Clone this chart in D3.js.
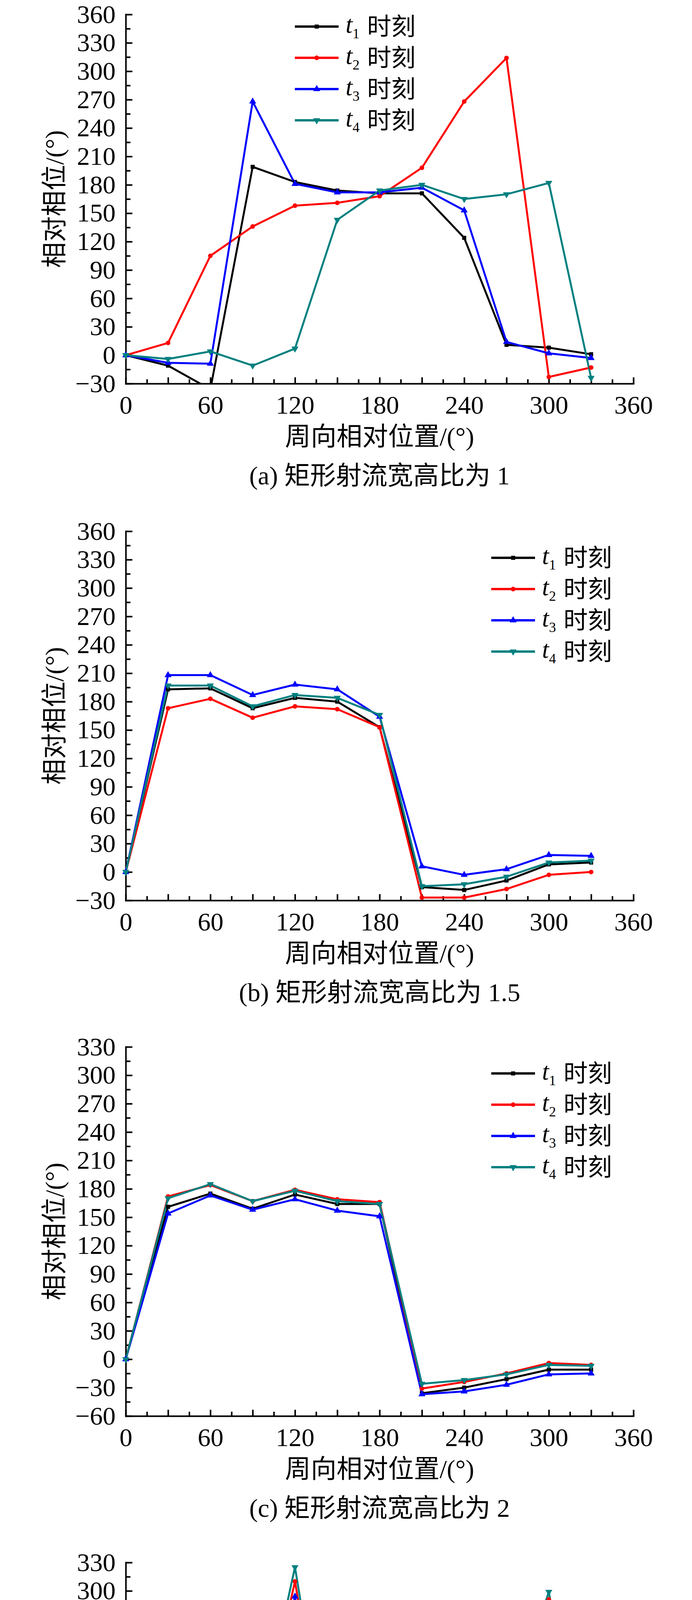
<!DOCTYPE html>
<html lang="zh">
<head>
<meta charset="UTF-8" />
<title>相对相位 - 周向相对位置</title>
<script src="https://d3js.org/d3.v7.min.js"></script>
<style>
  body { margin: 0; background: #fff; }
  svg { display: block; background: #fff; }
  text { font-family: "Liberation Serif", "Times New Roman", "Noto Sans CJK SC", serif; fill: #000; }
  .axis path, .axis line { stroke: #000; stroke-width: 4; }
  .axis path { stroke-linecap: square; }
  .axis text { font-size: 66px; font-family: "Liberation Serif", "Times New Roman", serif; }
  .serie { fill: none; stroke-width: 5; stroke-linejoin: round; }
</style>
</head>
<body>
<svg id="fig" width="1772" height="5222"></svg>
<script>
// 周向位置 (°)
const angles = [0, 30, 60, 90, 120, 150, 180, 210, 240, 270, 300, 330];

// (a) 宽高比 1
const aT1 = [0, -11, -36, 199, 183, 174, 171, 171, 124, 11, 8, 1];
const aT2 = [0, 13, 105, 136, 158, 161, 168, 198, 268, 314, -23, -13];
const aT3 = [0, -8, -9, 268, 181, 172, 172, 177, 153, 14, 2, -3];
const aT4 = [0, -4, 4, -11, 7, 143, 174, 180, 165, 170, 182, -24];

// (b) 宽高比 1.5
const bT1 = [0, 193, 194, 173, 184, 180, 153, -16, -19, -9, 8, 10];
const bT2 = [0, 173, 183, 163, 175, 172, 153, -27, -27, -18, -3, 0];
const bT3 = [0, 208, 208, 187, 198, 193, 164, 6, -3, 3, 18, 17];
const bT4 = [0, 197, 197, 175, 187, 184, 166, -15, -13, -5, 10, 12];

// (c) 宽高比 2
const cT1 = [0, 161, 175, 159, 174, 164, 164, -36, -30, -21, -11, -11];
const cT2 = [0, 172, 184, 167, 179, 169, 166, -31, -24, -15, -4, -6];
const cT3 = [0, 154, 173, 158, 169, 157, 151, -37, -34, -27, -16, -15];
const cT4 = [0, 170, 185, 167, 178, 167, 164, -26, -22, -16, -6, -7];

// (d) 宽高比 10
const dT1 = [0, 164, 193, 89, 284, 24, -32, 139, 216, 130, 267, 28];
const dT2 = [0, 184, 200, 110, 310, 48, -9, 164, 243, 148, 291, 36];
const dT3 = [0, 144, 202, 104, 294, 31, -22, 140, 231, 144, 281, 32];
const dT4 = [0, 172, 216, 120, 325, 53, -3, 162, 247, 159, 299, 48];

const seriesNames = ["1", "2", "3", "4"];   // t 的下标
const xTicks = [0, 60, 120, 180, 240, 300, 360];
const captions = ["(a) 矩形射流宽高比为 1", "(b) 矩形射流宽高比为 1.5",
                  "(c) 矩形射流宽高比为 2", "(d) 矩形射流宽高比为 10"];

// ---- 样式与布局 ----
const colors = ["#000000", "#ff0000", "#0000ff", "#008080"];
const symbols = [d3.symbolSquare, d3.symbolCircle, d3.symbolTriangle, d3.symbolTriangle];
const symSize = [110, 110, 140, 140];
const symRot = [0, 0, 0, 180];

const left = 322, plotW = 1300, plotH = 945;

const panels = [
  { top: 37,   yMin: -30, yMax: 360, series: [aT1, aT2, aT3, aT4], legend: [755, 68] },
  { top: 1360, yMin: -30, yMax: 360, series: [bT1, bT2, bT3, bT4], legend: [1258, 1428] },
  { top: 2680, yMin: -60, yMax: 330, series: [cT1, cT2, cT3, cT4], legend: [1258, 2748] },
  { top: 4000, yMin: -60, yMax: 330, series: [dT1, dT2, dT3, dT4], legend: [1130, 4608] }
];

const svg = d3.select("#fig");

panels.forEach((p, pi) => {
  const x = d3.scaleLinear().domain([0, 360]).range([0, plotW]);
  const y = d3.scaleLinear().domain([p.yMin, p.yMax]).range([plotH, 0]);

  const g = svg.append("g").attr("transform", `translate(${left},${p.top})`);

  g.append("clipPath").attr("id", "clip" + pi)
    .append("rect").attr("x", -10).attr("y", -10).attr("width", plotW + 20).attr("height", plotH + 10);

  // 次刻度 (15°)
  g.append("g").attr("class", "axis")
    .attr("transform", `translate(0,${plotH})`)
    .call(d3.axisBottom(x).tickValues(d3.range(15, 360, 30)).tickSize(-11).tickFormat(""))
    .call(s => s.select(".domain").remove());
  g.append("g").attr("class", "axis")
    .call(d3.axisLeft(y).tickValues(d3.range(p.yMin + 15, p.yMax, 30)).tickSize(-12).tickFormat(""))
    .call(s => s.select(".domain").remove());

  // 主刻度
  g.append("g").attr("class", "axis")
    .attr("transform", `translate(0,${plotH})`)
    .call(d3.axisBottom(x).tickValues(d3.range(0, 361, 30)).tickSizeInner(-16).tickSizeOuter(0)
      .tickPadding(30).tickFormat(d => xTicks.includes(d) ? d : ""));
  g.append("g").attr("class", "axis")
    .call(d3.axisLeft(y).tickValues(d3.range(p.yMin, p.yMax + 1, 30)).tickSizeInner(-17).tickSizeOuter(0)
      .tickPadding(26).tickFormat(d3.format("d")));

  // 轴标题
  g.append("text")
    .attr("x", plotW / 2).attr("y", plotH + 158)
    .attr("text-anchor", "middle").attr("font-size", 66)
    .text("周向相对位置/(°)");
  g.append("text")
    .attr("transform", `translate(${162 - left},${plotH / 2}) rotate(-90)`)
    .attr("text-anchor", "middle").attr("font-size", 66)
    .text("相对相位/(°)");

  // 图题
  g.append("text")
    .attr("x", plotW / 2).attr("y", plotH + 258)
    .attr("text-anchor", "middle").attr("font-size", 66)
    .text(captions[pi]);

  // 曲线与标记
  const plot = g.append("g").attr("clip-path", `url(#clip${pi})`);
  const line = d3.line().x((d, i) => x(angles[i])).y(d => y(d));

  p.series.forEach((vals, si) => {
    plot.append("path").attr("class", "serie")
      .attr("stroke", colors[si]).attr("d", line(vals));
  });
  p.series.forEach((vals, si) => {
    plot.selectAll(null).data(vals).join("path")
      .attr("transform", (d, i) => `translate(${x(angles[i])},${y(d)}) rotate(${symRot[si]})`)
      .attr("d", d3.symbol().type(symbols[si]).size(symSize[si]))
      .attr("fill", colors[si]);
  });

  // 图例
  const lg = svg.append("g").attr("transform", `translate(${p.legend[0]},${p.legend[1]})`);
  seriesNames.forEach((n, si) => {
    const row = lg.append("g").attr("transform", `translate(0,${si * 80})`);
    row.append("line").attr("x1", 0).attr("x2", 112).attr("y1", 0).attr("y2", 0)
      .attr("stroke", colors[si]).attr("stroke-width", 6);
    row.append("path")
      .attr("transform", `translate(56,0) rotate(${symRot[si]})`)
      .attr("d", d3.symbol().type(symbols[si]).size(symSize[si]))
      .attr("fill", colors[si]);
    const t = row.append("text").attr("x", 130).attr("y", 16).attr("font-size", 64);
    t.append("tspan").attr("font-style", "italic").text("t");
    t.append("tspan").attr("font-size", 36).attr("dy", 14).text(n);
    row.append("text").attr("x", 185).attr("y", 22).attr("font-size", 62).text("时刻");
  });
});
</script>
</body>
</html>
